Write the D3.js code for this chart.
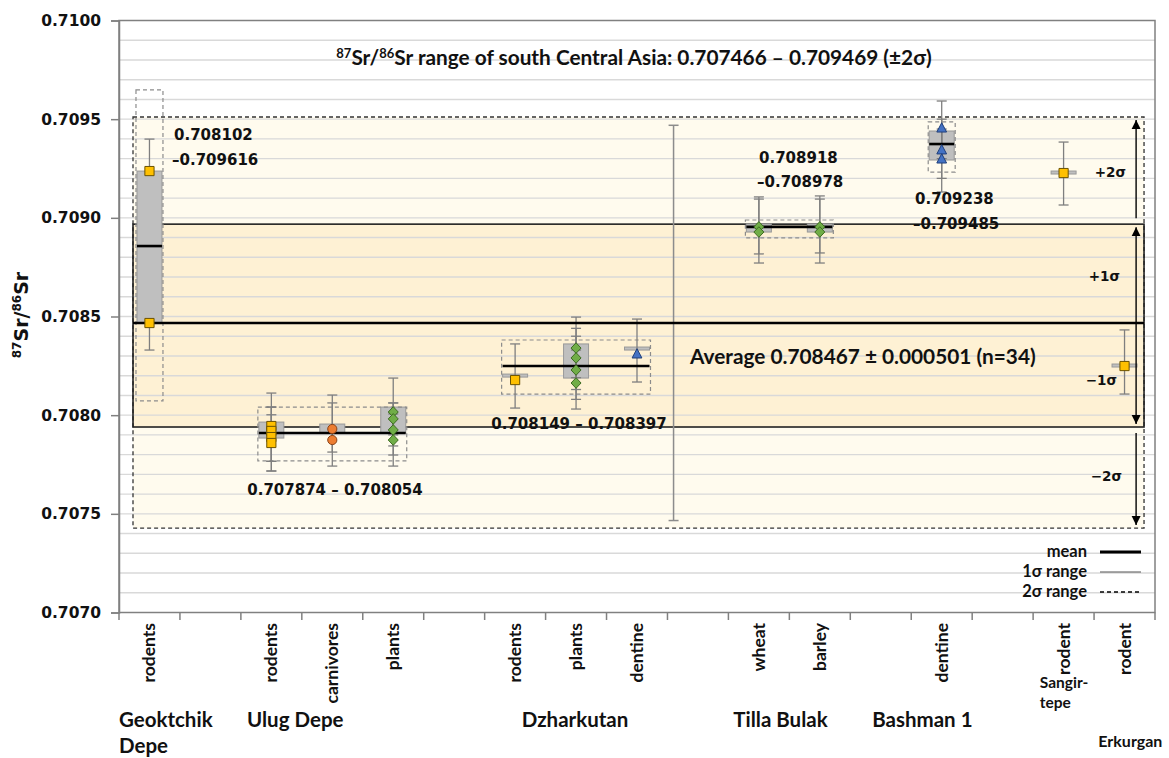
<!DOCTYPE html>
<html>
<head>
<meta charset="utf-8">
<script src="https://cdn.jsdelivr.net/npm/d3@7"></script>
<style>
body { margin: 0; background: #fff; }
svg { display: block; }
</style>
</head>
<body>
<svg id="chart"></svg>
<script>
// x slots ("" = empty spacer slot)
var categories = ["rodents", "", "rodents", "carnivores", "plants", "", "rodents", "plants", "dentine", "", "wheat", "barley", "", "dentine", "", "rodent", "rodent"]
var yTickValues = [0.7070, 0.7075, 0.7080, 0.7085, 0.7090, 0.7095, 0.7100]

// sites: first / last slot, site mean, group 2σ range
var siteNames = [["Geoktchik", "Depe"], ["Ulug Depe"], ["Dzharkutan"], ["Tilla Bulak"], ["Bashman 1"], ["Sangir-", "tepe"], ["Erkurgan"]]
var siteFirst = [0, 2, 6, 10, 13, 15, 16]
var siteLast = [0, 4, 8, 11, 13, 15, 16]
var siteMean = [0.708857, 0.707910, 0.708249, 0.708954, 0.709374, null, null]
var siteLow2s = [0.708072, 0.707768, 0.708107, 0.708898, 0.709232, null, null]
var siteHigh2s = [0.709648, 0.708041, 0.708381, 0.708989, 0.709486, null, null]
var siteRangeText = [["0.708102", "\u20130.709616"], ["0.707874 \u2013 0.708054"], ["0.708149 \u2013 0.708397"], ["0.708918", "\u20130.708978"], ["0.709238", "\u20130.709485"], [], []]

// sample series: slot, marker, measured values, error bar ends, grey box
var seriesSlot = [0, 2, 3, 4, 6, 7, 8, 10, 11, 13, 15, 16]
var seriesMarker = ["square", "square", "circle", "diamond", "square", "diamond", "triangle", "diamond", "diamond", "triangle", "square", "square"]
var seriesValues = [
    [0.709237, 0.708467],
    [0.707945, 0.707920, 0.707889, 0.707859],
    [0.707930, 0.707874],
    [0.708016, 0.707981, 0.707925, 0.707874],
    [0.708178],
    [0.708340, 0.708290, 0.708229, 0.708163],
    [0.708310],
    [0.708954, 0.708928],
    [0.708954, 0.708928],
    [0.709455, 0.709344, 0.709298],
    [0.709227],
    [0.708249]
]
var seriesErrHigh = [
    [0.709399, 0.708467],
    [0.708112, 0.708041, 0.708041, 0.708002],
    [0.708102, 0.708062],
    [0.708188, 0.708062, 0.708062, 0.708006],
    [0.708361],
    [0.708497, 0.708440, 0.708400, 0.708330],
    [0.708487],
    [0.709106, 0.709095],
    [0.709111, 0.709095],
    [0.709592, 0.709500, 0.709450],
    [0.709384],
    [0.708432]
]
var seriesErrLow = [
    [0.709237, 0.708330],
    [0.707766, 0.707717, 0.707766, 0.707717],
    [0.707813, 0.707742],
    [0.707844, 0.707900, 0.707798, 0.707742],
    [0.708036],
    [0.708190, 0.708130, 0.708080, 0.708031],
    [0.708168],
    [0.708817, 0.708771],
    [0.708822, 0.708771],
    [0.709300, 0.709200, 0.709131],
    [0.709065],
    [0.708107]
]
var boxLow = [0.708467, 0.707884, 0.707910, 0.707910, 0.708193, 0.708188, 0.708330, 0.708928, 0.708928, 0.709293, 0.709222, 0.708244]
var boxHigh = [0.709237, 0.707965, 0.707955, 0.708041, 0.708203, 0.708361, 0.708342, 0.708969, 0.708969, 0.709440, 0.709232, 0.708254]

// whole south Central Asia baseline
var regionMean = 0.708467
var region1s = [0.707940, 0.708968]
var region2s = [0.707428, 0.709511]
var region2sBar = [0.707466, 0.709469]

var markerFill = { square: "#ffc000", circle: "#ed7d31", diamond: "#70ad47", triangle: "#4472c4" }
var markerStroke = { square: "#6b5200", circle: "#8a4318", diamond: "#3d6b22", triangle: "#203f7a" }

var NUM_FONT = "DejaVu Sans"
var TXT_FONT = "Lato"

document.addEventListener("DOMContentLoaded", function() {
    drawChart()
})

function drawChart() {
    var svgWidth = 1169, svgHeight = 758
    var svg = d3.select("#chart").attr("width", svgWidth).attr("height", svgHeight)

    var x = d3.scaleBand().domain(d3.range(categories.length)).range([119, 1155])
    var y = d3.scaleLinear().domain([0.7070, 0.7100]).range([612.5, 20.5])
    var bw = x.bandwidth()
    var cx = function(i) { return x(i) + bw / 2 }
    var half = bw * 0.205

    var defs = svg.append("defs")
    defs.append("marker").attr("id", "arrow")
        .attr("viewBox", "0 0 10 10").attr("refX", 10).attr("refY", 5)
        .attr("markerUnits", "userSpaceOnUse")
        .attr("markerWidth", 9).attr("markerHeight", 11)
        .attr("orient", "auto-start-reverse")
        .append("path").attr("d", "M0,0 L10,5 L0,10 z").attr("fill", "#000")

    // region bands
    var bandLeft = x(0) + 14, bandRight = x(16) + bw * 0.82
    svg.append("rect")
        .attr("x", bandLeft).attr("y", y(region2s[1]))
        .attr("width", bandRight - bandLeft).attr("height", y(region2s[0]) - y(region2s[1]))
        .attr("fill", "#fffbee")
    svg.append("rect")
        .attr("x", bandLeft).attr("y", y(region1s[1]))
        .attr("width", bandRight - bandLeft).attr("height", y(region1s[0]) - y(region1s[1]))
        .attr("fill", "#fef1d4")

    // gridlines every 0.0001
    var grid = d3.range(1, 30).map(function(i) { return 0.7070 + i * 0.0001 })
    svg.append("g").selectAll("line").data(grid).join("line")
        .attr("x1", 119).attr("x2", 1155)
        .attr("y1", function(d) { return y(d) }).attr("y2", function(d) { return y(d) })
        .attr("stroke", "#d9d9d9").attr("stroke-width", 1.4)

    // band outlines
    svg.append("rect")
        .attr("x", bandLeft).attr("y", y(region2s[1]))
        .attr("width", bandRight - bandLeft).attr("height", y(region2s[0]) - y(region2s[1]))
        .attr("fill", "none").attr("stroke", "#333").attr("stroke-width", 1.3)
        .attr("stroke-dasharray", "4,3")
    svg.append("rect")
        .attr("x", bandLeft).attr("y", y(region1s[1]))
        .attr("width", bandRight - bandLeft).attr("height", y(region1s[0]) - y(region1s[1]))
        .attr("fill", "none").attr("stroke", "#222").attr("stroke-width", 1.6)

    // frame
    svg.append("rect").attr("x", 119).attr("y", 20.5).attr("width", 1036).attr("height", 592)
        .attr("fill", "none").attr("stroke", "#808080").attr("stroke-width", 1.5)

    // y axis
    var yAxis = svg.append("g").attr("transform", "translate(119,0)")
        .call(d3.axisLeft(y).tickValues(yTickValues).tickFormat(d3.format(".4f")).tickSize(8).tickPadding(10))
    yAxis.select(".domain").attr("stroke", "#808080").attr("stroke-width", 1.5)
    yAxis.selectAll(".tick line").attr("stroke", "#808080").attr("stroke-width", 1.5)
    yAxis.selectAll(".tick text").attr("font-family", NUM_FONT).attr("font-weight", "bold")
        .attr("font-size", "15.5px").attr("fill", "#111")

    var yTitle = svg.append("text")
        .attr("transform", "translate(28,315) rotate(-90)")
        .attr("text-anchor", "middle")
        .attr("font-family", NUM_FONT).attr("font-weight", "bold").attr("font-size", "19px").attr("fill", "#111")
    yTitle.append("tspan").attr("font-size", "12px").attr("dy", -7).text("87")
    yTitle.append("tspan").attr("dy", 7).text("Sr/")
    yTitle.append("tspan").attr("font-size", "12px").attr("dy", -7).text("86")
    yTitle.append("tspan").attr("dy", 7).text("Sr")

    // x axis ticks at slot boundaries
    var bounds = d3.range(categories.length + 1).map(function(i) { return i < categories.length ? x(i) : x.range()[1] })
    svg.append("g").selectAll("line").data(bounds).join("line")
        .attr("x1", function(d) { return d }).attr("x2", function(d) { return d })
        .attr("y1", 612.5).attr("y2", 620)
        .attr("stroke", "#808080").attr("stroke-width", 1.5)
    svg.append("g").selectAll("text").data(categories).join("text")
        .attr("transform", function(d, i) { return "translate(" + (cx(i) + 6) + ",623) rotate(-90)" })
        .attr("text-anchor", "end")
        .attr("font-family", TXT_FONT).attr("font-weight", "bold").attr("font-size", "17.5px").attr("fill", "#111")
        .text(function(d) { return d })

    // site labels
    var siteLabelX = [0, 0.1, 0.61, 0.08, 0.36, 0.11, 0.07]
    var siteLabelSlot = [0, 2, 6, 10, 12, 15, 16]
    var siteLabelY = [[727, 753], [727], [727], [727], [727], [688, 708], [747]]
    var siteLabelSize = ["20.5px", "20.5px", "20.5px", "20.5px", "20.5px", "15.5px", "16px"]
    siteNames.forEach(function(lines, s) {
        lines.forEach(function(line, k) {
            svg.append("text")
                .attr("x", x(siteLabelSlot[s]) + siteLabelX[s] * bw)
                .attr("y", siteLabelY[s][k])
                .attr("font-family", TXT_FONT).attr("font-weight", "bold")
                .attr("font-size", siteLabelSize[s]).attr("fill", "#111")
                .text(line)
        })
    })

    // overall 2σ bar
    var barX = x(9) + bw * 0.1
    svg.append("line").attr("x1", barX).attr("x2", barX)
        .attr("y1", y(region2sBar[1])).attr("y2", y(region2sBar[0]))
        .attr("stroke", "#8c8c8c").attr("stroke-width", 1.5)
    region2sBar.forEach(function(v) {
        svg.append("line").attr("x1", barX - 5).attr("x2", barX + 5)
            .attr("y1", y(v)).attr("y2", y(v))
            .attr("stroke", "#8c8c8c").attr("stroke-width", 1.5)
    })

    // grey boxes
    svg.append("g").selectAll("rect").data(seriesSlot).join("rect")
        .attr("x", function(d) { return cx(d) - half })
        .attr("width", half * 2)
        .attr("y", function(d, i) { return Math.min(y(boxHigh[i]), y(boxLow[i]) - 3) })
        .attr("height", function(d, i) { return Math.max(y(boxLow[i]) - y(boxHigh[i]), 3) })
        .attr("fill", "#bfbfbf").attr("stroke", "#999").attr("stroke-width", 1)

    // group 2σ dashed boxes
    siteMean.forEach(function(m, s) {
        if (m === null) return
        var x0 = cx(siteFirst[s]) - half - 1, x1 = cx(siteLast[s]) + half + 1
        svg.append("rect").attr("x", x0).attr("width", x1 - x0)
            .attr("y", y(siteHigh2s[s])).attr("height", y(siteLow2s[s]) - y(siteHigh2s[s]))
            .attr("fill", "none").attr("stroke", "#8c8c8c").attr("stroke-width", 1.2)
            .attr("stroke-dasharray", "4,3")
    })

    // error bars
    seriesSlot.forEach(function(slot, i) {
        seriesValues[i].forEach(function(v, k) {
            var hi = seriesErrHigh[i][k], lo = seriesErrLow[i][k]
            var g = svg.append("g").attr("stroke", "#7f7f7f").attr("stroke-width", 1.3)
            g.append("line").attr("x1", cx(slot)).attr("x2", cx(slot)).attr("y1", y(hi)).attr("y2", y(lo))
            if (hi > v) g.append("line").attr("x1", cx(slot) - 5).attr("x2", cx(slot) + 5).attr("y1", y(hi)).attr("y2", y(hi))
            if (lo < v) g.append("line").attr("x1", cx(slot) - 5).attr("x2", cx(slot) + 5).attr("y1", y(lo)).attr("y2", y(lo))
        })
    })

    // region mean line
    svg.append("line").attr("x1", bandLeft).attr("x2", bandRight)
        .attr("y1", y(regionMean)).attr("y2", y(regionMean))
        .attr("stroke", "#000").attr("stroke-width", 2.5)

    // site mean lines
    siteMean.forEach(function(m, s) {
        if (m === null) return
        svg.append("line")
            .attr("x1", cx(siteFirst[s]) - half).attr("x2", cx(siteLast[s]) + half)
            .attr("y1", y(m)).attr("y2", y(m))
            .attr("stroke", "#000").attr("stroke-width", 2.6)
    })

    // markers
    var shapes = {
        square: "M-4.6,-4.6H4.6V4.6H-4.6Z",
        circle: d3.symbol(d3.symbolCircle, 66)(),
        diamond: "M0,-5.3L5,0L0,5.3L-5,0Z",
        triangle: "M0,-5.3L4.9,4H-4.9Z"
    }
    seriesSlot.forEach(function(slot, i) {
        var m = seriesMarker[i]
        svg.append("g").selectAll("path").data(seriesValues[i]).join("path")
            .attr("transform", function(v) { return "translate(" + cx(slot) + "," + y(v) + ")" })
            .attr("d", shapes[m])
            .attr("fill", markerFill[m]).attr("stroke", markerStroke[m]).attr("stroke-width", 1)
    })

    // σ arrows
    var arrowX = x(16) + bw * 0.69
    var arrows = [[region1s[1], region2s[1], false], [region1s[0], region1s[1], true], [region1s[0], region2s[0], false]]
    arrows.forEach(function(a, k) {
        var gapFrom = k == 1 ? 3 : 6
        var y0 = y(a[0]), y1 = y(a[1])
        var dir = y1 > y0 ? 1 : -1
        var ln = svg.append("line").attr("x1", arrowX).attr("x2", arrowX)
            .attr("y1", y0 + dir * gapFrom).attr("y2", y1 - dir * 3)
            .attr("stroke", "#000").attr("stroke-width", 1.4)
            .attr("marker-end", "url(#arrow)")
        if (a[2]) ln.attr("marker-start", "url(#arrow)")
    })

    var sigmaText = [["+2\u03c3", 0.709230, 1126], ["+1\u03c3", 0.708705, 1120], ["\u22121\u03c3", 0.708180, 1117], ["\u22122\u03c3", 0.707690, 1122]]
    sigmaText.forEach(function(t) {
        svg.append("text").attr("x", t[2]).attr("y", y(t[1]) + 5)
            .attr("text-anchor", "end")
            .attr("font-family", NUM_FONT).attr("font-weight", "bold").attr("font-size", "13.5px").attr("fill", "#111")
            .text(t[0])
    })

    // range annotations
    var annoPos = [[[174, 140], [172, 165]], [[335, 495]], [[579, 429]], [[759, 163], [757, 187]], [[915, 204], [913, 229]]]
    var annoAnchor = ["start", "middle", "middle", "start", "start"]
    annoPos.forEach(function(pos, s) {
        pos.forEach(function(p, k) {
            svg.append("text").attr("x", p[0]).attr("y", p[1])
                .attr("text-anchor", annoAnchor[s])
                .attr("font-family", NUM_FONT).attr("font-weight", "bold").attr("font-size", "15px").attr("fill", "#111")
                .text(siteRangeText[s][k])
        })
    })

    svg.append("text").attr("x", 690).attr("y", 364)
        .attr("font-family", TXT_FONT).attr("font-weight", "bold").attr("font-size", "20.8px").attr("fill", "#111")
        .text("Average 0.708467 \u00b1 0.000501 (n=34)")

    var title = svg.append("text").attr("x", 634).attr("y", 65)
        .attr("text-anchor", "middle")
        .attr("font-family", TXT_FONT).attr("font-weight", "bold").attr("font-size", "20.8px").attr("fill", "#111")
    title.append("tspan").attr("font-size", "13px").attr("dy", -7).text("87")
    title.append("tspan").attr("dy", 7).text("Sr/")
    title.append("tspan").attr("font-size", "13px").attr("dy", -7).text("86")
    title.append("tspan").attr("dy", 7).text("Sr range of south Central Asia: 0.707466 \u2013 0.709469 (\u00b12\u03c3)")

    // legend
    var legendItems = ["mean", "1\u03c3 range", "2\u03c3 range"]
    var legendWidth = [3, 1.2, 1.5]
    var legendDash = [null, null, "4,3"]
    legendItems.forEach(function(name, k) {
        var ly = 552 + k * 20
        svg.append("text").attr("x", 1087).attr("y", ly + 5)
            .attr("text-anchor", "end")
            .attr("font-family", TXT_FONT).attr("font-weight", "bold").attr("font-size", "16.5px").attr("fill", "#111")
            .text(name)
        svg.append("line").attr("x1", 1100).attr("x2", 1141).attr("y1", ly).attr("y2", ly)
            .attr("stroke", k == 1 ? "#555" : "#000").attr("stroke-width", legendWidth[k])
            .attr("stroke-dasharray", legendDash[k])
    })
}
</script>
</body>
</html>
